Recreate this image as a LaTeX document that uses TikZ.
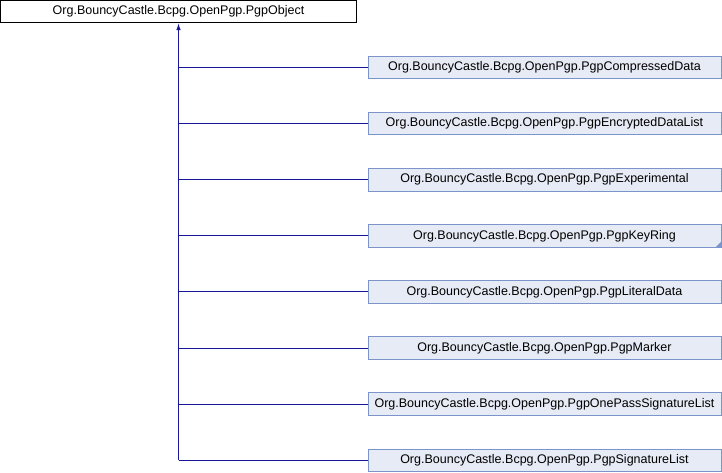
\documentclass[tikz,border=0pt]{standalone}
\usepackage{fontspec}
\setmainfont{Liberation Sans}
\usetikzlibrary{arrows.meta}
\definecolor{edgeblue}{RGB}{24,24,150}
\definecolor{boxfill}{RGB}{231,235,245}
\definecolor{boxdraw}{RGB}{124,148,204}
\begin{document}
\begin{tikzpicture}[x=1pt,y=-1pt,
  lbl/.style={font=\fontsize{12.5}{15}\selectfont, inner sep=0pt},
  basebox/.style={lbl, draw=black, fill=white, line width=0.9pt, minimum width=356pt, minimum height=22.5pt},
  childbox/.style={lbl, draw=boxdraw, fill=boxfill, line width=0.9pt, minimum width=353pt, minimum height=22.5pt, anchor=west},
  edge/.style={draw=edgeblue, line width=0.9pt},
  inh/.style={edge, {Latex[length=7pt,width=4.5pt]}-}]
\useasboundingbox (0,0) rectangle (722,472);
\node[basebox] (base) at (178.5,11.5) {Org.BouncyCastle.Bcpg.OpenPgp.PgpObject};
\node[childbox] (c1) at (367.5,67.5) {Org.BouncyCastle.Bcpg.OpenPgp.PgpCompressedData};
\node[childbox] (c2) at (367.5,123.6) {Org.BouncyCastle.Bcpg.OpenPgp.PgpEncryptedDataList};
\node[childbox] (c3) at (367.5,179.7) {Org.BouncyCastle.Bcpg.OpenPgp.PgpExperimental};
\node[childbox] (c4) at (367.5,235.8) {Org.BouncyCastle.Bcpg.OpenPgp.PgpKeyRing};
\node[childbox] (c5) at (367.5,291.9) {Org.BouncyCastle.Bcpg.OpenPgp.PgpLiteralData};
\node[childbox] (c6) at (367.5,348.0) {Org.BouncyCastle.Bcpg.OpenPgp.PgpMarker};
\node[childbox] (c7) at (367.5,404.1) {Org.BouncyCastle.Bcpg.OpenPgp.PgpOnePassSignatureList};
\node[childbox] (c8) at (367.5,460.2) {Org.BouncyCastle.Bcpg.OpenPgp.PgpSignatureList};
% truncation marker on PgpKeyRing
\fill[boxdraw] (c4.south east) -- ++(0,-6) -- ++(-6,6) -- cycle;
% trunk
\coordinate (j8) at (base.south |- c8.west);
\draw[inh] (base.south) -- (j8);
\foreach \k in {1,...,8}{
  \draw[edge] (base.south |- c\k.west) -- (c\k.west);
}
\end{tikzpicture}
\end{document}
